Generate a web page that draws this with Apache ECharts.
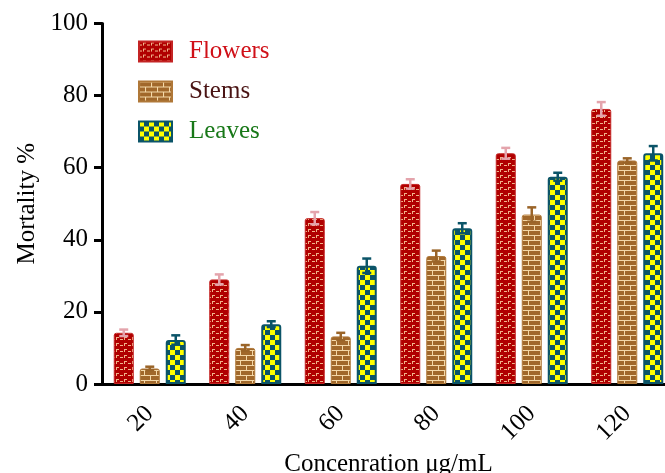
<!DOCTYPE html>
<html>
<head>
<meta charset="utf-8">
<script src="https://cdn.jsdelivr.net/npm/echarts@6/dist/echarts.min.js"></script>
<style>
html,body{margin:0;padding:0;background:#fff;overflow:hidden;}
#chart{width:665px;height:473px;}
</style>
</head>
<body>
<div id="chart"></div>
<script>
var categories = ['20', '40', '60', '80', '100', '120'];
var flowers    = [14.2, 29.0, 46.0, 55.5, 64.0, 76.3];
var flowersErr = [0.9, 1.4, 1.7, 1.3, 1.5, 1.9];
var stems      = [4.3, 10.0, 13.2, 35.5, 47.0, 62.0];
var stemsErr   = [0.5, 0.8, 1.0, 1.5, 2.0, 0.6];
var leaves     = [12.2, 16.6, 32.8, 43.2, 57.5, 64.0];
var leavesErr  = [1.3, 0.8, 2.0, 1.4, 1.1, 2.0];
var yTicks = [0, 20, 40, 60, 80, 100];

var FONT = "'Liberation Serif', 'Times New Roman', serif";

function makeTile(w, h, bg, draw) {
  var c = document.createElement('canvas');
  c.width = w; c.height = h;
  var ctx = c.getContext('2d');
  ctx.fillStyle = bg; ctx.fillRect(0, 0, w, h);
  draw(ctx);
  return c;
}
var flowerTile = makeTile(8, 6, '#b00000', function (ctx) {
  ctx.fillStyle = '#f0b48a';
  ctx.fillRect(0, 3, 3, 1);
  ctx.fillRect(4, 1, 3, 1);
  ctx.fillRect(4, 1, 1, 3);
});
var stemTile = makeTile(12, 10, '#a1682b', function (ctx) {
  ctx.fillStyle = '#f4d8a8';
  ctx.fillRect(0, 0, 12, 1);
  ctx.fillRect(0, 5, 12, 1);
  ctx.fillRect(0, 0, 1, 5);
  ctx.fillRect(6, 5, 1, 5);
});
var leafTile = makeTile(10, 10, '#0b5468', function (ctx) {
  ctx.fillStyle = '#ffff00';
  ctx.fillRect(0, 0, 5, 5);
  ctx.fillRect(5, 5, 5, 5);
});

var BAR_W = 20;
var BAR_GAP = 0.3;

function errSeries(name, vals, errs, idx, color) {
  var data = vals.map(function (v, i) { return [i, v, errs[i]]; });
  return {
    type: 'custom',
    name: name + ' err',
    z: 5,
    silent: true,
    data: data,
    renderItem: function (params, api) {
      var cat = api.value(0), v = api.value(1), e = api.value(2);
      var top = api.coord([cat, v + e]);
      var bot = api.coord([cat, v - e]);
      var off = (idx - 1) * (BAR_W + BAR_W * BAR_GAP);
      var x = top[0] + off;
      var cap = 4.5;
      var st = { stroke: color, lineWidth: 2.5, fill: null };
      return {
        type: 'group',
        children: [
          { type: 'line', shape: { x1: x, y1: top[1], x2: x, y2: bot[1] }, style: st },
          { type: 'line', shape: { x1: x - cap, y1: top[1], x2: x + cap, y2: top[1] }, style: st },
          { type: 'line', shape: { x1: x - cap, y1: bot[1], x2: x + cap, y2: bot[1] }, style: st }
        ]
      };
    }
  };
}

var chart = echarts.init(document.getElementById('chart'));
chart.setOption({
  animation: false,
  backgroundColor: '#fff',
  grid: { left: 102, top: 23.5, width: 573, height: 360.5, containLabel: false, outerBoundsMode: 'none' },
  legend: {
    orient: 'vertical',
    left: 138,
    top: 39,
    padding: 0,
    icon: 'rect',
    itemWidth: 33,
    itemHeight: 20,
    itemGap: 15,
    textStyle: { fontFamily: FONT, fontSize: 25, lineHeight: 20, padding: [0, 0, 0, 12] },
    data: [
      { name: 'Flowers', textStyle: { color: '#d01018' } },
      { name: 'Stems', textStyle: { color: '#4a1414' } },
      { name: 'Leaves', textStyle: { color: '#187818' } }
    ]
  },
  xAxis: {
    type: 'category',
    data: categories,
    name: 'Concenration μg/mL',
    nameLocation: 'middle',
    nameGap: 63,
    nameTextStyle: { fontFamily: FONT, fontSize: 25, color: '#000', verticalAlign: 'top' },
    axisLine: { lineStyle: { color: '#000', width: 3 } },
    axisTick: { alignWithLabel: true, length: 8, lineStyle: { color: '#000', width: 3 } },
    axisLabel: { rotate: 45, margin: 26, fontFamily: FONT, fontSize: 25, color: '#000' }
  },
  yAxis: {
    type: 'value',
    min: 0, max: 100, interval: 20,
    name: 'Mortality %',
    nameLocation: 'middle',
    nameGap: 46,
    nameTextStyle: { fontFamily: FONT, fontSize: 25, color: '#000' },
    axisLine: { show: true, lineStyle: { color: '#000', width: 3 } },
    axisTick: { show: true, length: 8, lineStyle: { color: '#000', width: 3 } },
    splitLine: { show: false },
    axisLabel: {
      margin: 14, fontFamily: FONT, fontSize: 25, color: '#000',
      formatter: function (v) { return yTicks.indexOf(v) >= 0 ? String(v) : ''; }
    }
  },
  series: [
    {
      type: 'bar', name: 'Flowers', data: flowers, barWidth: BAR_W, barGap: '30%',
      itemStyle: { color: { image: flowerTile, repeat: 'repeat' }, borderColor: '#c42424', borderWidth: 1, borderRadius: [2, 2, 0, 0] }
    },
    {
      type: 'bar', name: 'Stems', data: stems, barWidth: BAR_W, barGap: '30%',
      itemStyle: { color: { image: stemTile, repeat: 'repeat' }, borderColor: '#b07838', borderWidth: 1, borderRadius: [2, 2, 0, 0] }
    },
    {
      type: 'bar', name: 'Leaves', data: leaves, barWidth: BAR_W, barGap: '30%',
      itemStyle: { color: { image: leafTile, repeat: 'repeat' }, borderColor: '#0b5468', borderWidth: 2, borderRadius: [2, 2, 0, 0] }
    },
    errSeries('Flowers', flowers, flowersErr, 0, '#e4a4ac'),
    errSeries('Stems', stems, stemsErr, 1, '#9a6428'),
    errSeries('Leaves', leaves, leavesErr, 2, '#0b5468')
  ]
});
</script>
</body>
</html>
